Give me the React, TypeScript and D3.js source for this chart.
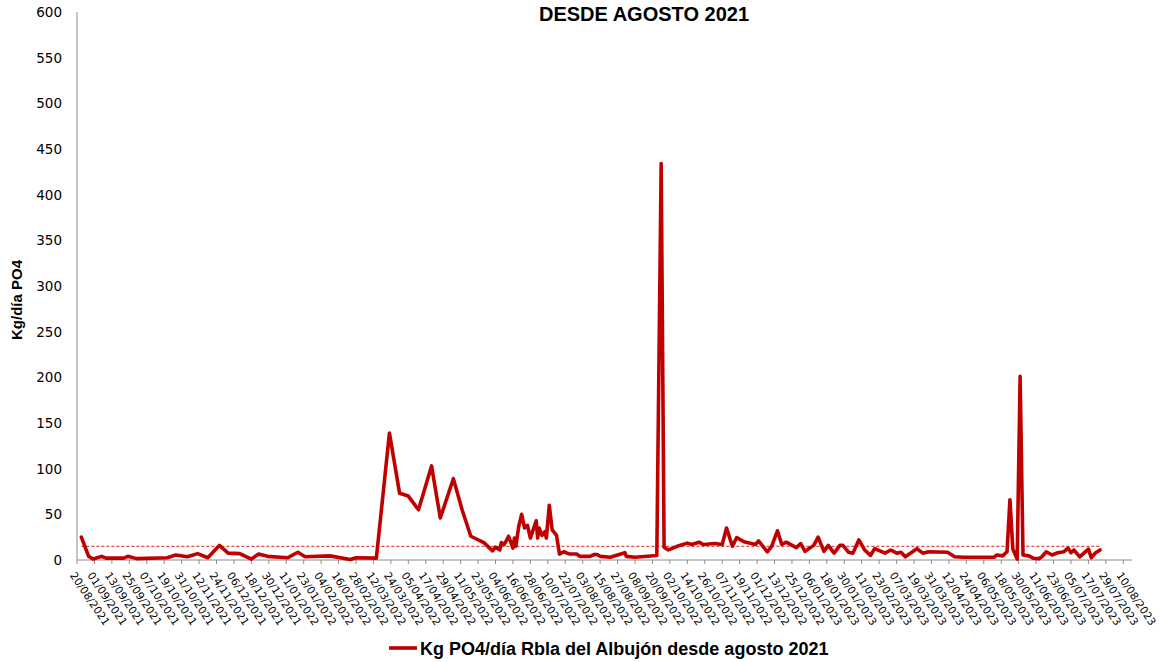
import React, { useEffect, useRef } from 'react';
import * as d3 from 'd3';

const sampleDates = [
  '23/08/2021', '28/08/2021', '31/08/2021', '06/09/2021', '09/09/2021', '21/09/2021', '24/09/2021', '30/09/2021',
  '21/10/2021', '27/10/2021', '04/11/2021', '11/11/2021', '18/11/2021', '26/11/2021', '02/12/2021', '10/12/2021',
  '18/12/2021', '23/12/2021', '29/12/2021', '12/01/2022', '19/01/2022', '24/01/2022', '10/02/2022', '24/02/2022',
  '28/02/2022', '14/03/2022', '23/03/2022', '30/03/2022', '05/04/2022', '12/04/2022', '21/04/2022', '27/04/2022',
  '06/05/2022', '12/05/2022', '18/05/2022', '27/05/2022', '02/06/2022', '04/06/2022', '07/06/2022', '08/06/2022',
  '10/06/2022', '13/06/2022', '16/06/2022', '17/06/2022', '18/06/2022', '20/06/2022', '22/06/2022', '24/06/2022',
  '26/06/2022', '28/06/2022', '02/07/2022', '03/07/2022', '04/07/2022', '06/07/2022', '08/07/2022', '09/07/2022',
  '11/07/2022', '13/07/2022', '16/07/2022', '18/07/2022', '21/07/2022', '25/07/2022', '30/07/2022', '01/08/2022',
  '08/08/2022', '11/08/2022', '13/08/2022', '15/08/2022', '22/08/2022', '01/09/2022', '02/09/2022', '08/09/2022',
  '23/09/2022', '26/09/2022', '28/09/2022', '01/10/2022', '07/10/2022', '14/10/2022', '17/10/2022', '22/10/2022',
  '25/10/2022', '02/11/2022', '07/11/2022', '10/11/2022', '14/11/2022', '17/11/2022', '22/11/2022', '30/11/2022',
  '02/12/2022', '08/12/2022', '11/12/2022', '15/12/2022', '18/12/2022', '21/12/2022', '28/12/2022', '31/12/2022',
  '03/01/2023', '09/01/2023', '12/01/2023', '16/01/2023', '19/01/2023', '23/01/2023', '27/01/2023', '29/01/2023',
  '02/02/2023', '05/02/2023', '09/02/2023', '13/02/2023', '17/02/2023', '20/02/2023', '27/02/2023', '03/03/2023',
  '07/03/2023', '10/03/2023', '13/03/2023', '18/03/2023', '21/03/2023', '25/03/2023', '29/03/2023', '11/04/2023',
  '16/04/2023', '22/04/2023', '13/05/2023', '15/05/2023', '19/05/2023', '22/05/2023', '24/05/2023', '26/05/2023',
  '29/05/2023', '31/05/2023', '02/06/2023', '06/06/2023', '09/06/2023', '13/06/2023', '15/06/2023', '18/06/2023',
  '22/06/2023', '26/06/2023', '30/06/2023', '03/07/2023', '05/07/2023', '07/07/2023', '11/07/2023', '17/07/2023',
  '19/07/2023', '22/07/2023', '25/07/2023',
];

const po4Values = [
  25, 4, 1, 4, 2, 2, 4, 1.5,
  2.5, 5.5, 3.5, 7, 2.5, 16, 7.5, 7,
  1, 6.5, 4, 2.5, 8.5, 3.5, 4.5, 0.5,
  2.5, 2, 139, 73, 70, 55, 103, 46,
  89, 55, 26, 19, 10, 14, 11, 19,
  17, 26, 13, 24, 15, 37, 50, 35,
  38, 24, 43, 24, 35, 27, 31, 24,
  60, 33, 27, 6.5, 9, 6.5, 6.5, 4,
  4, 6, 6, 4, 3, 8, 4, 3,
  5, 434, 14, 11, 15, 18.5, 17, 19.5,
  17, 18, 17, 35, 15, 24.5, 20, 17,
  21, 9, 15, 32, 17, 19.5, 13.5, 18,
  9.5, 16, 25, 9.5, 16, 7.5, 16, 16,
  8.5, 7.5, 22, 11, 5, 12.5, 7.5, 11,
  7.5, 8.5, 3.5, 9, 12.5, 7.5, 9, 8.5,
  3.5, 3, 3, 5.5, 4.5, 9, 66, 12,
  1, 201, 5.5, 4.5, 2, 1.5, 3.5, 9,
  5.5, 8, 9, 13, 8, 11, 3.5, 12,
  2.5, 8, 11,
];

const limitValue = 15;

const xTickLabels = [
  '20/08/2021', '01/09/2021', '13/09/2021', '25/09/2021', '07/10/2021', '19/10/2021', '31/10/2021', '12/11/2021',
  '24/11/2021', '06/12/2021', '18/12/2021', '30/12/2021', '11/01/2022', '23/01/2022', '04/02/2022', '16/02/2022',
  '28/02/2022', '12/03/2022', '24/03/2022', '05/04/2022', '17/04/2022', '29/04/2022', '11/05/2022', '23/05/2022',
  '04/06/2022', '16/06/2022', '28/06/2022', '10/07/2022', '22/07/2022', '03/08/2022', '15/08/2022', '27/08/2022',
  '08/09/2022', '20/09/2022', '02/10/2022', '14/10/2022', '26/10/2022', '07/11/2022', '19/11/2022', '01/12/2022',
  '13/12/2022', '25/12/2022', '06/01/2023', '18/01/2023', '30/01/2023', '11/02/2023', '23/02/2023', '07/03/2023',
  '19/03/2023', '31/03/2023', '12/04/2023', '24/04/2023', '06/05/2023', '18/05/2023', '30/05/2023', '11/06/2023',
  '23/06/2023', '05/07/2023', '17/07/2023', '29/07/2023', '10/08/2023',
];

const yTicks = [0, 50, 100, 150, 200, 250, 300, 350, 400, 450, 500, 550, 600];

const axisStart = '20/08/2021';
const axisEnd = '16/08/2023';

const width = 1159;
const height = 662;
const margin = { top: 12, right: 27, bottom: 102, left: 77 };

const RED = '#c00000';
const AXIS_GREY = '#8c8c8c';

const PO4Chart: React.FC = () => {
  const svgRef = useRef<SVGSVGElement>(null);

  useEffect(() => {
    if (!svgRef.current) return;

    const svg = d3.select(svgRef.current);
    svg.selectAll('*').remove();

    const parse = d3.utcParse('%d/%m/%Y');
    const data = sampleDates.map((d, i) => ({ date: parse(d) as Date, value: po4Values[i] }));

    const innerWidth = width - margin.left - margin.right;
    const innerHeight = height - margin.top - margin.bottom;

    const xScale = d3
      .scaleUtc()
      .domain([parse(axisStart) as Date, parse(axisEnd) as Date])
      .range([0, innerWidth]);

    const yScale = d3.scaleLinear().domain([0, 600]).range([innerHeight, 0]);

    const g = svg.append('g').attr('transform', `translate(${margin.left},${margin.top})`);

    // y axis: line + labels only
    g.append('line')
      .attr('x1', 0)
      .attr('x2', 0)
      .attr('y1', 0)
      .attr('y2', innerHeight)
      .attr('stroke', AXIS_GREY)
      .attr('stroke-width', 1);

    g.selectAll('.y-label')
      .data(yTicks)
      .enter()
      .append('text')
      .attr('class', 'y-label')
      .attr('x', -15)
      .attr('y', d => yScale(d))
      .attr('dy', '0.36em')
      .style('text-anchor', 'end')
      .style('font-family', 'DejaVu Sans, sans-serif')
      .style('font-size', '13.5px')
      .style('fill', '#000')
      .text(d => d);

    // x axis
    g.append('line')
      .attr('x1', 0)
      .attr('x2', innerWidth)
      .attr('y1', innerHeight)
      .attr('y2', innerHeight)
      .attr('stroke', AXIS_GREY)
      .attr('stroke-width', 1);

    const ticks = xTickLabels.map(l => ({ label: l, x: xScale(parse(l) as Date) }));

    g.selectAll('.x-tick')
      .data(ticks)
      .enter()
      .append('line')
      .attr('class', 'x-tick')
      .attr('x1', d => d.x)
      .attr('x2', d => d.x)
      .attr('y1', innerHeight)
      .attr('y2', innerHeight + 4)
      .attr('stroke', AXIS_GREY)
      .attr('stroke-width', 1);

    g.selectAll('.x-label')
      .data(ticks)
      .enter()
      .append('text')
      .attr('class', 'x-label')
      .attr('transform', d => `translate(${d.x - 1},${innerHeight + 11}) rotate(56)`)
      .attr('dy', '0.72em')
      .style('text-anchor', 'start')
      .style('font-family', 'DejaVu Sans, sans-serif')
      .style('font-size', '10.7px')
      .style('fill', '#000')
      .text(d => d.label);

    // limit line
    const first = data[0].date;
    const last = data[data.length - 1].date;
    g.append('line')
      .attr('x1', xScale(first))
      .attr('x2', xScale(last))
      .attr('y1', yScale(limitValue))
      .attr('y2', yScale(limitValue))
      .attr('stroke', '#d42020')
      .attr('stroke-width', 1)
      .attr('stroke-dasharray', '3,2');

    // series
    const line = d3
      .line<{ date: Date; value: number }>()
      .x(d => xScale(d.date))
      .y(d => yScale(d.value));

    g.append('path')
      .datum(data)
      .attr('d', line)
      .attr('fill', 'none')
      .attr('stroke', RED)
      .attr('stroke-width', 3.6)
      .attr('stroke-linejoin', 'round')
      .attr('stroke-linecap', 'round');

    // title
    svg
      .append('text')
      .attr('x', 644)
      .attr('y', 21)
      .style('text-anchor', 'middle')
      .style('font-family', 'Liberation Sans, Arial, sans-serif')
      .style('font-weight', 'bold')
      .style('font-size', '20px')
      .style('fill', '#000')
      .text('DESDE AGOSTO 2021');

    // y axis title
    svg
      .append('text')
      .attr('transform', 'translate(22,300) rotate(-90)')
      .style('text-anchor', 'middle')
      .style('font-family', 'Liberation Sans, Arial, sans-serif')
      .style('font-weight', 'bold')
      .style('font-size', '15px')
      .style('fill', '#000')
      .text('Kg/día PO4');

    // legend
    const legend = svg.append('g').attr('transform', 'translate(389,648)');
    legend
      .append('line')
      .attr('x1', 0)
      .attr('x2', 28)
      .attr('y1', 0)
      .attr('y2', 0)
      .attr('stroke', RED)
      .attr('stroke-width', 3.6);
    legend
      .append('text')
      .attr('x', 31)
      .attr('y', 6.5)
      .style('font-family', 'Liberation Sans, Arial, sans-serif')
      .style('font-weight', 'bold')
      .style('font-size', '18px')
      .style('fill', '#000')
      .text('Kg PO4/día Rbla del Albujón desde agosto 2021');
  }, []);

  return (
    <div style={{ position: 'absolute', left: 0, top: 0 }}>
      <svg ref={svgRef} width={width} height={height} style={{ display: 'block', background: '#fff' }} />
    </div>
  );
};

export default function App() {
  return <PO4Chart />;
}
